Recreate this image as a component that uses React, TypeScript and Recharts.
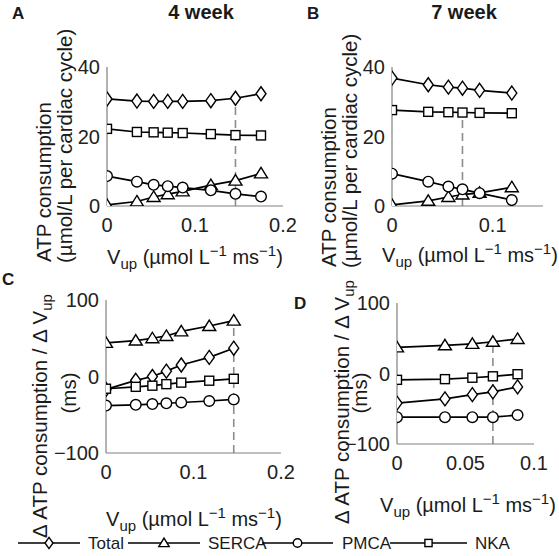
import React from 'react';
import { LineChart, Line, XAxis, YAxis, ReferenceLine } from 'recharts';

const FONT = '"Liberation Sans", Arial, Helvetica, sans-serif';

// ---------- Data ----------
// Panel A: 4 week, ATP consumption (umol/L per cardiac cycle)
const vupA = [0, 0.034, 0.053, 0.069, 0.086, 0.118, 0.146, 0.175];
const totalA = [30.8, 30.2, 30.1, 30.1, 30.1, 30.3, 31.0, 32.3];
const sercaA = [0.3, 1.3, 2.6, 3.4, 4.2, 6.0, 7.3, 9.4];
const pmcaA = [8.6, 7.0, 6.1, 5.7, 5.3, 4.5, 3.5, 2.7];
const nkaA = [22.2, 21.3, 21.2, 21.1, 21.0, 20.7, 20.4, 20.3];

// Panel B: 7 week
const vupB = [0, 0.036, 0.056, 0.07, 0.087, 0.119];
const totalB = [36.8, 34.9, 34.2, 33.9, 33.3, 32.5];
const sercaB = [0.3, 1.5, 2.6, 3.3, 3.8, 5.4];
const pmcaB = [9.3, 7.0, 5.6, 4.8, 3.7, 1.7];
const nkaB = [27.6, 27.1, 27.0, 26.9, 26.8, 26.7];

// Panel C: 4 week, d ATP / d Vup (ms)
const vupC = [0, 0.034, 0.053, 0.069, 0.086, 0.118, 0.146];
const totalC = [-17, -5, 0, 7, 15, 25, 37];
const sercaC = [44, 47, 50, 53, 59, 66, 73];
const pmcaC = [-38, -37, -36, -35, -34, -32, -30];
const nkaC = [-16, -13.5, -12, -10, -8, -5.5, -3];

// Panel D: 7 week
const vupD = [0, 0.035, 0.055, 0.07, 0.088];
const totalD = [-42, -36, -30, -26, -19];
const sercaD = [37, 40, 42, 45, 49];
const pmcaD = [-62, -62, -62, -62, -59];
const nkaD = [-9, -8, -6, -4, -1];

// Reference (dashed) lines: x position and vertical extent
const refA = { x: 0.146, y0: 0, y1: 30 };
const refB = { x: 0.07, y0: 0, y1: 26 };
const refC = { x: 0.146, y0: -100, y1: 72 };
const refD = { x: 0.07, y0: -100, y1: 44 };

// Axis ticks
const ticksAB_y = [0, 20, 40];
const ticksCD_y = [-100, 0, 100];
const ticksA_x = [0, 0.1, 0.2];
const ticksB_x = [0, 0.1];
const ticksC_x = [0, 0.1, 0.2];
const ticksD_x = [0, 0.05, 0.1];

const seriesNames = ['Total', 'SERCA', 'PMCA', 'NKA'];
const seriesKeys = ['total', 'serca', 'pmca', 'nka'];
type Shape = 'diamond' | 'triangle' | 'circle' | 'square';
const seriesShapes: Shape[] = ['diamond', 'triangle', 'circle', 'square'];

function buildRows(x: number[], total: number[], serca: number[], pmca: number[], nka: number[]) {
  return x.map((v, i) => ({ x: v, total: total[i], serca: serca[i], pmca: pmca[i], nka: nka[i] }));
}

// ---------- Markers ----------
function Marker({ cx, cy, shape, s = 1 }: { cx: number; cy: number; shape: Shape; s?: number }) {
  if (cx == null || cy == null || isNaN(cx) || isNaN(cy)) return null;
  const common = { fill: '#fff', stroke: '#000', strokeWidth: 1.4 };
  switch (shape) {
    case 'diamond':
      return (
        <polygon
          {...common}
          points={`${cx},${cy - 7 * s} ${cx + 5 * s},${cy} ${cx},${cy + 7 * s} ${cx - 5 * s},${cy}`}
        />
      );
    case 'triangle':
      return (
        <polygon
          {...common}
          points={`${cx},${cy - 6 * s} ${cx + 6.5 * s},${cy + 4.5 * s} ${cx - 6.5 * s},${cy + 4.5 * s}`}
        />
      );
    case 'circle':
      return <circle {...common} cx={cx} cy={cy} r={5.3 * s} />;
    case 'square':
      return <rect {...common} x={cx - 4.5 * s} y={cy - 4.5 * s} width={9 * s} height={9 * s} />;
  }
  return null;
}

const fmtNum = (v: number) => String(v).replace('-', '\u2212');

// ---------- Panel ----------
type Box = { x0: number; x1: number; y0: number; y1: number };

function Panel({
  rows,
  plot,
  xDomain,
  xTicks,
  yDomain,
  yTicks,
  refl,
}: {
  rows: any[];
  plot: Box;
  xDomain: [number, number];
  xTicks: number[];
  yDomain: [number, number];
  yTicks: number[];
  refl: { x: number; y0: number; y1: number };
}) {
  const W = 559;
  const H = 556;
  const YW = 40;
  const XH = 30;
  const margin = { top: plot.y0, right: W - plot.x1, left: plot.x0 - YW, bottom: H - plot.y1 - XH };
  const tickStyle = { fill: '#222', fontSize: 20, fontFamily: FONT };
  return (
    <div style={{ position: 'absolute', left: 0, top: 0 }}>
      <LineChart width={W} height={H} data={rows} margin={margin}>
        <XAxis
          type="number"
          dataKey="x"
          domain={xDomain}
          ticks={xTicks}
          allowDataOverflow
          height={XH}
          stroke="#808080"
          strokeWidth={1.2}
          tick={tickStyle}
          tickLine={false}
          tickSize={6}
          tickMargin={6}
          tickFormatter={fmtNum}
          interval={0}
        />
        <YAxis
          type="number"
          domain={yDomain}
          ticks={yTicks}
          allowDataOverflow
          width={YW}
          stroke="#808080"
          strokeWidth={1.2}
          tick={tickStyle}
          tickLine={false}
          tickSize={6}
          tickMargin={1}
          tickFormatter={fmtNum}
          interval={0}
        />
        <ReferenceLine
          segment={[
            { x: refl.x, y: refl.y0 },
            { x: refl.x, y: refl.y1 },
          ]}
          stroke="#8c8c8c"
          strokeWidth={1.6}
          strokeDasharray="8 5"
        />
        {seriesKeys.map((k, i) => (
          <Line
            key={k}
            dataKey={k}
            type="linear"
            stroke="#000"
            strokeWidth={1.7}
            isAnimationActive={false}
            activeDot={false}
            dot={(p: any) => (
              <Marker key={`${k}-${p.index}`} cx={p.cx} cy={p.cy} shape={seriesShapes[i]} />
            )}
          />
        ))}
      </LineChart>
    </div>
  );
}

// ---------- Text helpers ----------
const txt = { fontFamily: FONT, fill: '#1a1a1a' } as const;

function VupLabel({ x, y, anchor = 'middle' }: { x: number; y: number; anchor?: string }) {
  return (
    <text x={x} y={y} textAnchor={anchor as any} fontSize={20} {...txt}>
      V
      <tspan dy={5} fontSize={15}>up</tspan>
      <tspan dy={-5}> (µmol L</tspan>
      <tspan dy={-8} fontSize={15}>−1</tspan>
      <tspan dy={8}> ms</tspan>
      <tspan dy={-8} fontSize={15}>−1</tspan>
      <tspan dy={8}>)</tspan>
    </text>
  );
}

function RotText({
  x,
  y,
  anchor,
  children,
  size = 20.5,
}: {
  x: number;
  y: number;
  anchor: string;
  children: any;
  size?: number;
}) {
  return (
    <text
      x={0}
      y={0}
      transform={`translate(${x},${y}) rotate(-90)`}
      textAnchor={anchor as any}
      fontSize={size}
      {...txt}
    >
      {children}
    </text>
  );
}

function DeltaLabel({ x, y }: { x: number; y: number }) {
  return (
    <RotText x={x} y={y} anchor="start">
      Δ ATP consumption / Δ V
      <tspan dy={5} fontSize={15}>up</tspan>
    </RotText>
  );
}

const legendLayout = [
  { x1: 18, x2: 80, text: 88 },
  { x1: 128, x2: 200, text: 208 },
  { x1: 262, x2: 333, text: 342 },
  { x1: 390, x2: 467, text: 475 },
];

export default function App() {
  const rowsA = buildRows(vupA, totalA, sercaA, pmcaA, nkaA);
  const rowsB = buildRows(vupB, totalB, sercaB, pmcaB, nkaB);
  const rowsC = buildRows(vupC, totalC, sercaC, pmcaC, nkaC);
  const rowsD = buildRows(vupD, totalD, sercaD, pmcaD, nkaD);
  const legendY = 543;
  return (
    <div
      style={{
        position: 'absolute',
        left: 0,
        top: 0,
        width: 559,
        height: 556,
        background: '#fff',
        overflow: 'hidden',
      }}
    >
      <Panel
        rows={rowsA}
        plot={{ x0: 107, x1: 283, y0: 67, y1: 206 }}
        xDomain={[0, 0.2]}
        xTicks={ticksA_x}
        yDomain={[0, 40]}
        yTicks={ticksAB_y}
        refl={refA}
      />
      <Panel
        rows={rowsB}
        plot={{ x0: 392, x1: 543, y0: 67, y1: 206 }}
        xDomain={[0, 0.15]}
        xTicks={ticksB_x}
        yDomain={[0, 40]}
        yTicks={ticksAB_y}
        refl={refB}
      />
      <Panel
        rows={rowsC}
        plot={{ x0: 106, x1: 281, y0: 300, y1: 453 }}
        xDomain={[0, 0.2]}
        xTicks={ticksC_x}
        yDomain={[-100, 100]}
        yTicks={ticksCD_y}
        refl={refC}
      />
      <Panel
        rows={rowsD}
        plot={{ x0: 397, x1: 534, y0: 303, y1: 444 }}
        xDomain={[0, 0.1]}
        xTicks={ticksD_x}
        yDomain={[-100, 100]}
        yTicks={ticksCD_y}
        refl={refD}
      />
      <svg
        width={559}
        height={556}
        style={{ position: 'absolute', left: 0, top: 0, pointerEvents: 'none' }}
      >
        {/* Panel letters and titles */}
        <text x={12} y={19} fontSize={17} fontWeight="bold" {...txt}>A</text>
        <text x={201} y={19} fontSize={20} fontWeight="bold" textAnchor="middle" {...txt}>4 week</text>
        <text x={307} y={19} fontSize={17} fontWeight="bold" {...txt}>B</text>
        <text x={464} y={19} fontSize={20} fontWeight="bold" textAnchor="middle" {...txt}>7 week</text>
        <text x={2} y={285} fontSize={17} fontWeight="bold" {...txt}>C</text>
        <text x={294} y={309} fontSize={17} fontWeight="bold" {...txt}>D</text>

        {/* Y labels A, B */}
        <RotText x={51} y={262} anchor="start">ATP consumption</RotText>
        <RotText x={72} y={263} anchor="start">(µmol/L per cardiac cycle)</RotText>
        <RotText x={336} y={267} anchor="start">ATP consumption</RotText>
        <RotText x={357} y={268} anchor="start">(µmol/L per cardiac cycle)</RotText>

        {/* Y labels C, D */}
        <DeltaLabel x={47} y={538} />
        <RotText x={76} y={393} anchor="middle">(ms)</RotText>
        <DeltaLabel x={349} y={524} />
        <RotText x={367} y={393} anchor="middle">(ms)</RotText>

        {/* X labels */}
        <VupLabel x={195} y={264} />
        <VupLabel x={470} y={262} />
        <VupLabel x={194} y={526} />
        <VupLabel x={468} y={512} />

        {/* Legend */}
        {seriesNames.map((name, i) => {
          const L = legendLayout[i];
          const mid = (L.x1 + L.x2) / 2;
          return (
            <g key={name}>
              <line x1={L.x1} x2={L.x2} y1={legendY} y2={legendY} stroke="#000" strokeWidth={1.6} />
              <Marker cx={mid} cy={legendY} shape={seriesShapes[i]} s={0.8} />
              <text x={L.text} y={legendY + 6} fontSize={17} {...txt}>{name}</text>
            </g>
          );
        })}
      </svg>
    </div>
  );
}
